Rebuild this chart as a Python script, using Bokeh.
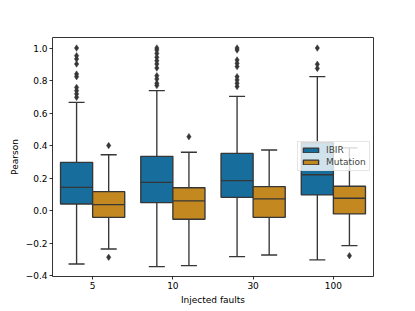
from bokeh.plotting import figure
from bokeh.models import ColumnDataSource, FixedTicker, Legend, LegendItem, Range1d
from bokeh.embed import file_html
from bokeh.resources import INLINE

# ---- data ----
categories = ["5", "10", "30", "100"]
hue_levels = ["IBIR", "Mutation"]

ibir_q1 = [0.041, 0.049, 0.082, 0.097]
ibir_median = [0.143, 0.174, 0.185, 0.221]
ibir_q3 = [0.297, 0.334, 0.352, 0.418]
ibir_whisker_low = [-0.328, -0.344, -0.283, -0.303]
ibir_whisker_high = [0.666, 0.738, 0.703, 0.824]
ibir_outliers = [
    [1.0, 0.953, 0.933, 0.902, 0.840, 0.824, 0.758, 0.738, 0.718, 0.697],
    [1.0, 0.988, 0.967, 0.943, 0.922, 0.902, 0.877, 0.830, 0.810, 0.783, 0.770],
    [1.0, 0.988, 0.927, 0.906, 0.886, 0.824, 0.804, 0.783, 0.763],
    [1.0, 0.900, 0.875],
]

mut_q1 = [-0.041, -0.053, -0.041, -0.020]
mut_median = [0.037, 0.060, 0.072, 0.076]
mut_q3 = [0.117, 0.141, 0.148, 0.150]
mut_whisker_low = [-0.236, -0.338, -0.273, -0.215]
mut_whisker_high = [0.344, 0.359, 0.373, 0.386]
mut_outliers = [[0.400, -0.287], [0.455], [], [-0.277]]

y_ticks = [-0.4, -0.2, 0.0, 0.2, 0.4, 0.6, 0.8, 1.0]

# ---- style ----
FONT = "DejaVu Sans"
GRAY = "#363636"
COLORS = {"IBIR": "#176d9c", "Mutation": "#c38820"}
BOX_W = 0.4
CAP_W = 0.2
LW = 1.35

p = figure(
    output_backend="svg",
    toolbar_location=None,
    frame_width=321,
    frame_height=239,
    min_border_left=52,
    min_border_right=34,
    min_border_top=37,
    min_border_bottom=32,
    x_range=Range1d(-0.5, 3.5),
    y_range=Range1d(-0.405, 1.065),
    background_fill_color="white",
    border_fill_color="white",
)
p.xgrid.visible = False
p.ygrid.visible = False
p.outline_line_color = "black"
p.outline_line_width = 0.8

series = {
    "IBIR": (ibir_q1, ibir_median, ibir_q3, ibir_whisker_low, ibir_whisker_high, ibir_outliers, -0.2),
    "Mutation": (mut_q1, mut_median, mut_q3, mut_whisker_low, mut_whisker_high, mut_outliers, 0.2),
}

legend_renderers = {}
for name in hue_levels:
    q1, med, q3, wl, wh, outs, off = series[name]
    xs = [i + off for i in range(len(categories))]
    src = ColumnDataSource(dict(
        x=xs, q1=q1, med=med, q3=q3, wl=wl, wh=wh,
        left=[x - BOX_W / 2 for x in xs], right=[x + BOX_W / 2 for x in xs],
        cl=[x - CAP_W / 2 for x in xs], cr=[x + CAP_W / 2 for x in xs],
    ))
    # whiskers
    p.segment(x0="x", y0="q3", x1="x", y1="wh", source=src, line_color=GRAY, line_width=LW)
    p.segment(x0="x", y0="q1", x1="x", y1="wl", source=src, line_color=GRAY, line_width=LW)
    # caps
    p.segment(x0="cl", y0="wh", x1="cr", y1="wh", source=src, line_color=GRAY, line_width=LW)
    p.segment(x0="cl", y0="wl", x1="cr", y1="wl", source=src, line_color=GRAY, line_width=LW)
    # boxes
    r = p.vbar(x="x", width=BOX_W, bottom="q1", top="q3", source=src,
               fill_color=COLORS[name], line_color=GRAY, line_width=LW)
    legend_renderers[name] = r
    # medians
    p.segment(x0="left", y0="med", x1="right", y1="med", source=src, line_color=GRAY, line_width=LW)
    # outliers
    ox, oy = [], []
    for i, vals in enumerate(outs):
        for v in vals:
            ox.append(i + off)
            oy.append(v)
    p.scatter(x=ox, y=oy, marker="diamond", size=6.5, fill_color=GRAY, line_color=GRAY, line_width=0.5)

# ---- axes ----
p.xaxis.ticker = FixedTicker(ticks=list(range(len(categories))))
p.xaxis.major_label_overrides = {i: c for i, c in enumerate(categories)}
p.yaxis.ticker = FixedTicker(ticks=y_ticks)
p.yaxis.major_label_overrides = {t: (f"{t:.1f}".replace("-", "\u2212")) for t in y_ticks}
p.xaxis.axis_label = "Injected faults"
p.yaxis.axis_label = "Pearson"
for ax in (p.xaxis[0], p.yaxis[0]):
    ax.axis_line_color = None
    ax.major_tick_line_color = "black"
    ax.major_tick_line_width = 0.8
    ax.major_tick_out = 3
    ax.major_tick_in = 0
    ax.minor_tick_line_color = None
    ax.major_label_text_font = FONT
    ax.major_label_text_font_size = "9px"
    ax.major_label_text_color = "black"
    ax.axis_label_text_font = FONT
    ax.axis_label_text_font_size = "9px"
    ax.axis_label_text_font_style = "normal"
    ax.axis_label_text_color = "black"
    ax.major_label_standoff = 2
    ax.axis_label_standoff = 3

# ---- legend ----
legend = Legend(
    items=[LegendItem(label=n, renderers=[legend_renderers[n]]) for n in hue_levels],
    location=(245, 105),
    label_text_font=FONT,
    label_text_font_size="9px",
    label_height=10,
    glyph_height=6,
    glyph_width=19,
    label_standoff=6,
    padding=3,
    spacing=2,
    margin=0,
    background_fill_color="white",
    background_fill_alpha=0.8,
    border_line_color="#cccccc",
    border_line_width=1,
)
p.add_layout(legend)

open("out.html", "w").write(file_html(p, INLINE))
